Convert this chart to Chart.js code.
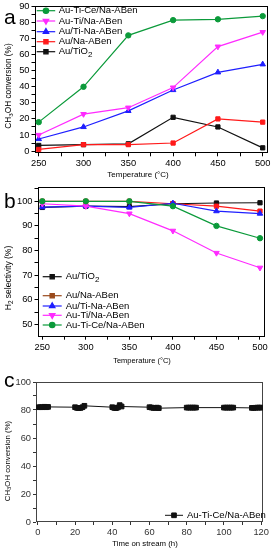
<!DOCTYPE html>
<html>
<head>
<meta charset="utf-8">
<script src="https://cdn.jsdelivr.net/npm/chart.js@4.4.1/dist/chart.umd.min.js"></script>
<style>
  body { margin: 0; background: #fff; }
  #page { position: relative; width: 273px; height: 550px; overflow: hidden; font-family: 'Liberation Sans', Arial, sans-serif; color: #000; }
  .panel { position: absolute; left: 0; width: 273px; }
  .letter { position: absolute; font-size: 21px; line-height: 21px; }
  .xtitle { position: absolute; transform: translate(-50%, -50%); white-space: nowrap; }
  .ytitle { position: absolute; transform: translate(-50%, -50%) rotate(-90deg); white-space: nowrap; }
  sub { font-size: 75%; vertical-align: -0.3em; line-height: 0; }
</style>
</head>
<body>
<div id="page">
  <div class="panel" style="top:0;height:182px"><canvas id="chartA"></canvas></div>
  <div class="panel" style="top:182px;height:182px"><canvas id="chartB"></canvas></div>
  <div class="panel" style="top:364px;height:186px"><canvas id="chartC"></canvas></div>

  <div class="letter" style="left:4px;top:6px">a</div>
  <div class="letter" style="left:4px;top:190px">b</div>
  <div class="letter" style="left:4px;top:369px">c</div>

  <div class="ytitle" style="left:8px;top:86px;font-size:8.3px">CH<sub>3</sub>OH conversion (%)</div>
  <div class="xtitle" style="left:138px;top:174px;font-size:8px">Temperature (°C)</div>

  <div class="ytitle" style="left:8px;top:278px;font-size:8.5px">H<sub>2</sub> selectivity (%)</div>
  <div class="xtitle" style="left:142px;top:360px;font-size:7.5px">Temperature (°C)</div>

  <div class="ytitle" style="left:7px;top:461px;font-size:7.8px">CH<sub>3</sub>OH conversion (%)</div>
  <div class="xtitle" style="left:145px;top:543px;font-size:7.8px">Time on stream (h)</div>
</div>

<script>
const FONT = "'Liberation Sans', Arial, sans-serif";

// panel a + b: temperature axis
const temperatures = [250, 300, 350, 400, 450, 500];
const tempTicks = [250, 300, 350, 400, 450, 500];
const tempMinorTicks = [275, 325, 375, 425, 475];

// panel a: CH3OH conversion (%)
const convAuTiCe = [18, 40, 72, 81.5, 82, 84];
const convAuTi = [10, 23, 27, 39.5, 65, 74];
const convAuTiNa = [7.5, 15, 25, 38, 49, 54];
const convAuNa = [1, 4, 4, 5, 20, 18];
const convAuTiO2 = [3.5, 4, 4.5, 21, 15, 2];
const convTicks = [0, 10, 20, 30, 40, 50, 60, 70, 80, 90];
const convMinorTicks = [5, 15, 25, 35, 45, 55, 65, 75, 85];

// panel b: H2 selectivity (%)
const selAuTiO2 = [97.5, 98, 97.8, 99, 99.3, 99.4];
const selAuNa = [100, 100, 100, 99, 98, 96];
const selAuTiNa = [97.6, 98, 97.5, 99.2, 96, 95];
const selAuTi = [99, 98, 95, 88, 79, 73];
const selAuTiCe = [100, 100, 100, 98, 90, 85];
const selTicks = [50, 60, 70, 80, 90, 100];
const selMinorTicks = [55, 65, 75, 85, 95, 105];

// panel c: stability test
const streamHours = [
  0.5, 1.5, 2.5, 3.5, 4.5, 5.5,
  20, 21, 22, 23, 24, 25,
  40, 41, 42, 43, 44, 45,
  60, 61, 62, 63, 64, 65,
  80, 81, 82, 83, 84, 85,
  100, 101, 102, 103, 104, 105,
  115, 116, 117, 118, 119, 120
];
const streamConv = [
  82, 82, 82, 82.3, 82, 82.2,
  82, 81.5, 81.3, 81.5, 82, 83,
  82, 81.5, 81.3, 81.8, 83.5, 82.5,
  82, 81.8, 81.5, 81.5, 81.7, 81.3,
  81.7, 81.7, 81.7, 81.7, 81.7, 81.7,
  81.7, 81.7, 81.7, 81.7, 81.7, 81.7,
  81.5, 81.5, 81.6, 81.7, 81.7, 81.7
];
const hourTicks = [0, 20, 40, 60, 80, 100, 120];
const hourMinorTicks = [10, 30, 50, 70, 90, 110];
const stabTicks = [0, 20, 40, 60, 80, 100];
const stabMinorTicks = [10, 30, 50, 70, 90];

const GREEN = '#0b9a3a';
const MAGENTA = '#ff2bff';
const BLUE = '#1f1fff';
const RED = '#ff1a1a';
const BLACK = '#111';

// box round the plot area
const frameBox = {
  id: 'frameBox',
  beforeDatasetsDraw(chart, args, opts) {
    const { ctx, chartArea: a } = chart;
    ctx.save();
    ctx.strokeStyle = opts.color || '#000';
    ctx.lineWidth = 1;
    ctx.strokeRect(Math.round(a.left) + 0.5, Math.round(a.top) + 0.5,
      Math.round(a.right - a.left) - 1, Math.round(a.bottom - a.top) - 1);
    ctx.restore();
  }
};

// legend drawn inside the plot: line + marker + label, rows at given y
const lineLegend = {
  id: 'lineLegend',
  afterDatasetsDraw(chart, args, opts) {
    if (!opts.rows) return;
    const ctx = chart.ctx;
    ctx.save();
    ctx.textBaseline = 'middle';
    chart.data.datasets.forEach((ds, i) => {
      const y = opts.rows[i];
      const color = ds.legendColor || ds.borderColor;
      ctx.strokeStyle = color;
      ctx.fillStyle = color;
      ctx.lineWidth = ds.borderWidth;
      ctx.beginPath();
      ctx.moveTo(opts.x, y);
      ctx.lineTo(opts.x + opts.lineLength, y);
      ctx.stroke();
      Chart.helpers.drawPoint(ctx, {
        pointStyle: ds.pointStyle,
        rotation: ds.pointRotation || 0,
        radius: ds.pointRadius,
        borderWidth: 1
      }, opts.x + opts.lineLength / 2, y);

      ctx.fillStyle = '#000';
      let x = opts.x + opts.lineLength + opts.gap;
      ds.label.split(/([\u2080-\u2089])/).forEach((part, k) => {
        if (!part) return;
        if (k % 2) {
          const digit = String.fromCharCode(part.charCodeAt(0) - 0x2080 + 48);
          ctx.font = opts.subFont;
          ctx.fillText(digit, x, y + 3);
          x += ctx.measureText(digit).width;
        } else {
          ctx.font = opts.font;
          ctx.fillText(part, x, y);
          x += ctx.measureText(part).width;
        }
      });
    });
    ctx.restore();
  }
};

function makeAxis(min, max, major, minor, size, isX, color) {
  return {
    type: 'linear',
    min: min,
    max: max,
    border: { display: false },
    grid: { drawOnChartArea: false, drawTicks: true, tickLength: 3, tickColor: color, tickWidth: 1 },
    ticks: {
      color: color,
      font: { family: FONT, size: 9.3 },
      padding: 2,
      maxRotation: 0,
      autoSkip: false,
      callback: v => major.includes(v) ? String(v) : ''
    },
    afterBuildTicks: s => {
      s.ticks = major.concat(minor).sort((p, q) => p - q).map(v => ({ value: v }));
    },
    afterFit: s => {
      if (isX) {
        s.height = size;
        s.paddingLeft = 0;
        s.paddingRight = 0;
      } else {
        s.width = size;
        s.paddingTop = 0;
        s.paddingBottom = 0;
      }
    }
  };
}

function series(label, xs, ys, color, style, extra) {
  return Object.assign({
    label: label,
    data: xs.map((x, i) => ({ x: x, y: ys[i] })),
    borderColor: color,
    backgroundColor: color,
    borderWidth: 1.2,
    pointStyle: style,
    pointRadius: 2.7,
    pointBorderWidth: 1,
    tension: 0
  }, extra || {});
}

function baseOptions(padding) {
  return {
    responsive: true,
    maintainAspectRatio: false,
    animation: false,
    devicePixelRatio: 1,
    layout: { padding: padding },
    plugins: { legend: { display: false }, tooltip: { enabled: false } }
  };
}

// panel a
const optsA = baseOptions({ top: 6.3, right: 6, left: 0, bottom: 0 });
optsA.scales = {
  x: makeAxis(245.3, 504.8, tempTicks, tempMinorTicks, 28.7, true, '#000'),
  y: makeAxis(-1.4, 90.1, convTicks, convMinorTicks, 34.5, false, '#000')
};
optsA.plugins.frameBox = { color: '#000' };
optsA.plugins.lineLegend = {
  x: 36.7, lineLength: 18.5, gap: 3.5, rows: [10.7, 21, 31.7, 41.7, 51.7],
  font: '9.5px ' + FONT, subFont: '8px ' + FONT
};

new Chart(document.getElementById('chartA'), {
  type: 'line',
  data: {
    datasets: [
      series('Au-Ti-Ce/Na-ABen', temperatures, convAuTiCe, GREEN, 'circle', { order: 0 }),
      series('Au-Ti/Na-ABen', temperatures, convAuTi, MAGENTA, 'triangle', { pointRotation: 180, pointRadius: 3.2, order: 1 }),
      series('Au/Ti-Na-ABen', temperatures, convAuTiNa, BLUE, 'triangle', { pointRadius: 3.2, order: 2 }),
      series('Au/Na-ABen', temperatures, convAuNa, RED, 'rect', { pointRadius: 3, order: 3 }),
      series('Au/TiO\u2082', temperatures, convAuTiO2, BLACK, 'rect', { pointRadius: 3, order: 4 })
    ]
  },
  options: optsA,
  plugins: [frameBox, lineLegend]
});

// panel b
const optsB = baseOptions({ top: 4.7, right: 9, left: 0, bottom: 0 });
optsB.scales = {
  x: makeAxis(244.5, 504.6, tempTicks, tempMinorTicks, 27.3, true, '#000'),
  y: makeAxis(45, 105.8, selTicks, selMinorTicks, 37.5, false, '#000')
};
optsB.plugins.frameBox = { color: '#000' };
optsB.plugins.lineLegend = {
  x: 42.7, lineLength: 19, gap: 4, rows: [94.7, 113.7, 124, 133.3, 143],
  font: '9.5px ' + FONT, subFont: '8px ' + FONT
};

new Chart(document.getElementById('chartB'), {
  type: 'line',
  data: {
    datasets: [
      series('Au/TiO\u2082', temperatures, selAuTiO2, BLACK, 'rect', { pointRadius: 3, order: 4 }),
      series('Au/Na-ABen', temperatures, selAuNa, RED, 'rect', { pointRadius: 3, order: 3, legendColor: '#9a4a1c' }),
      series('Au/Ti-Na-ABen', temperatures, selAuTiNa, BLUE, 'triangle', { pointRadius: 3.2, order: 2 }),
      series('Au-Ti/Na-ABen', temperatures, selAuTi, MAGENTA, 'triangle', { pointRotation: 180, pointRadius: 3.2, order: 1 }),
      series('Au-Ti-Ce/Na-ABen', temperatures, selAuTiCe, GREEN, 'circle', { order: 0 })
    ]
  },
  options: optsB,
  plugins: [frameBox, lineLegend]
});

// panel c
const optsC = baseOptions({ top: 18, right: 10, left: 0, bottom: 0 });
optsC.scales = {
  x: makeAxis(-1, 121, hourTicks, hourMinorTicks, 28, true, '#333'),
  y: makeAxis(0, 100, stabTicks, stabMinorTicks, 36, false, '#333')
};
optsC.plugins.frameBox = { color: '#444' };
optsC.plugins.lineLegend = {
  x: 165, lineLength: 18, gap: 4, rows: [151.3],
  font: '9.5px ' + FONT, subFont: '8px ' + FONT
};

new Chart(document.getElementById('chartC'), {
  type: 'line',
  data: {
    datasets: [
      series('Au-Ti-Ce/Na-ABen', streamHours, streamConv, '#111', 'rect', { borderWidth: 1, pointRadius: 3.3 })
    ]
  },
  options: optsC,
  plugins: [frameBox, lineLegend]
});
</script>
</body>
</html>
